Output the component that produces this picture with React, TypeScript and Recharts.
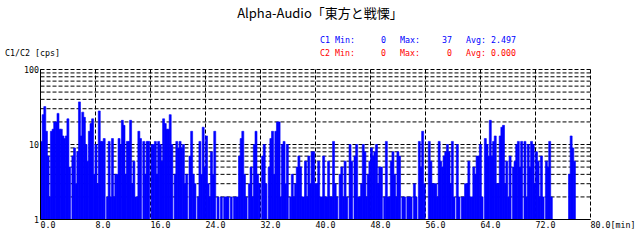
import { BarChart, Bar, XAxis, YAxis, CartesianGrid } from 'recharts';

// counts per bin (0 = no bar)
const c1Part1 = [11, 25, 32, 15, 7, 2, 15, 16, 20, 20, 26, 16, 16, 13, 12, 13, 22, 5, 0, 7, 9, 3, 8, 37, 13, 27, 23, 10, 6, 15, 19, 22, 4, 10, 3, 28, 11, 11, 12, 0, 2, 11, 2, 12, 2, 4, 4, 12, 10, 21, 18, 4, 11, 11, 21, 3, 6, 2];
const c1Part2 = [2, 15, 12, 0, 11, 4, 11, 11, 0, 10, 10, 11, 4, 11, 10, 6, 22, 19, 16, 16, 25, 10, 0, 4, 11, 9, 11, 9, 10, 3, 4, 0, 7, 15, 4, 3, 0, 2, 11, 4, 17, 5, 13, 3, 2, 8, 4, 15, 0, 2, 0, 2, 0, 2, 2];
const c1Part3 = [2, 0, 2, 0, 2, 2, 2, 7, 12, 15, 4, 2, 0, 3, 5, 2, 10, 15, 4, 3, 0, 7, 10, 3, 0, 5, 12, 15, 4, 15, 20, 20, 2, 10, 11, 3, 10, 0, 2, 4, 2, 3, 5, 7, 5, 2, 2, 6, 2, 7, 3, 8, 8, 3, 3, 6];
const c1Part4 = [2, 2, 7, 2, 2, 6, 2, 2, 11, 3, 2, 0, 4, 5, 2, 6, 2, 0, 10, 6, 0, 7, 10, 2, 2, 3, 10, 8, 2, 4, 6, 9, 7, 8, 10, 3, 5, 5, 0, 2, 11, 2, 2, 6, 8, 4, 2, 8, 7, 0, 2, 2, 0, 2, 2];
const c1Part5 = [2, 0, 3, 2, 0, 11, 5, 15, 3, 0, 0, 11, 6, 3, 3, 3, 2, 11, 6, 5, 7, 8, 10, 8, 3, 11, 2, 0, 10, 2, 0, 2, 2, 3, 3, 6, 2, 2, 5, 4, 7, 7, 10, 2, 0, 12, 10, 7, 21, 7, 11, 13, 3, 3, 13];
const c1Part6 = [17, 18, 3, 6, 2, 7, 0, 5, 6, 10, 11, 5, 11, 0, 11, 2, 10, 5, 11, 10, 3, 8, 6, 2, 7, 2, 0, 6, 5, 11, 2, 0, 0, 0, 0, 0, 0, 0, 0, 0, 0, 4, 13, 9, 6];

const BIN_MIN = 0.24; // minutes per bin

const xTicks = [0, 8, 16, 24, 32, 40, 48, 56, 64, 72, 80];
const xTickLabels = ['0.0', '8.0', '16.0', '24.0', '32.0', '40.0', '48.0', '56.0', '64.0', '72.0', '80.0[min]'];
const yTicks = [1, 2, 3, 4, 5, 6, 7, 8, 9, 10, 20, 30, 40, 50, 60, 70, 80, 90, 100];
const yTickLabels = ['1', '', '', '', '', '', '', '', '', '10', '', '', '', '', '', '', '', '', '100'];

const statsC1 = ['C1 Min:', '0', 'Max:', '37', 'Avg: 2.497'];
const statsC2 = ['C2 Min:', '0', 'Max:', '0', 'Avg: 0.000'];

const MONO = '"DejaVu Sans Mono", "Liberation Mono", monospace';
const FS = 8.3;

const c1 = [...c1Part1, ...c1Part2, ...c1Part3, ...c1Part4, ...c1Part5, ...c1Part6];
const data = c1.map((v, i) => ({ t: (i + 0.5) * BIN_MIN, c1: v > 0 ? v : null }));

function YTick(props: any) {
  const label = yTickLabels[yTicks.indexOf(props.payload.value)];
  if (!label) return <g />;
  return (
    <text x={39} y={props.y} textAnchor="end" dominantBaseline="central" fontSize={FS} fontFamily={MONO} fill="#000">
      {label}
    </text>
  );
}

function XTick(props: any) {
  const label = xTickLabels[xTicks.indexOf(props.payload.value)];
  return (
    <text x={props.x} y={225} textAnchor="start" dominantBaseline="central" fontSize={FS} fontFamily={MONO} fill="#000">
      {label}
    </text>
  );
}

function StatsRow({ items, y, color }: { items: string[]; y: number; color: string }) {
  const common = { y, dominantBaseline: 'central' as const, fontSize: FS, fontFamily: MONO, fill: color };
  return (
    <g>
      <text x={320} {...common}>{items[0]}</text>
      <text x={386} textAnchor="end" {...common}>{items[1]}</text>
      <text x={400} {...common}>{items[2]}</text>
      <text x={452} textAnchor="end" {...common}>{items[3]}</text>
      <text x={466} {...common}>{items[4]}</text>
    </g>
  );
}

export default function App() {
  return (
    <div style={{ position: 'absolute', left: 0, top: 0, width: 640, height: 240, background: '#fff' }}>
      <BarChart
        width={640}
        height={240}
        data={data}
        margin={{ top: 69.5, right: 49.5, bottom: 0.5, left: 0.5 }}
        barCategoryGap={0}
        barGap={0}
      >
        <CartesianGrid stroke="#000" strokeDasharray="4 2" />
        <XAxis
          dataKey="t"
          type="number"
          domain={[0, 80]}
          ticks={xTicks}
          interval={0}
          allowDataOverflow
          height={20}
          axisLine={{ stroke: '#000' }}
          tickLine={false}
          tick={<XTick />}
        />
        <YAxis
          type="number"
          scale="log"
          domain={[1, 100]}
          ticks={yTicks}
          interval={0}
          allowDataOverflow
          width={40}
          axisLine={{ stroke: '#000' }}
          tickLine={false}
          tick={<YTick />}
        />
        <Bar dataKey="c1" fill="#0000ff" stroke="#0000ff" strokeWidth={0.6} isAnimationActive={false} />
      </BarChart>
      <svg width={640} height={240} style={{ position: 'absolute', left: 0, top: 0, pointerEvents: 'none' }}>
        <text x={320} y={12} textAnchor="middle" dominantBaseline="central" fontSize={13} fontFamily='"Noto Sans CJK JP", sans-serif' fill="#000">
          Alpha-Audio「東方と戦慄」
        </text>
        <StatsRow items={statsC1} y={40} color="#0000ff" />
        <StatsRow items={statsC2} y={53} color="#ff0000" />
        <text x={5} y={53} dominantBaseline="central" fontSize={FS} fontFamily={MONO} fill="#000">
          C1/C2 [cps]
        </text>
      </svg>
    </div>
  );
}
